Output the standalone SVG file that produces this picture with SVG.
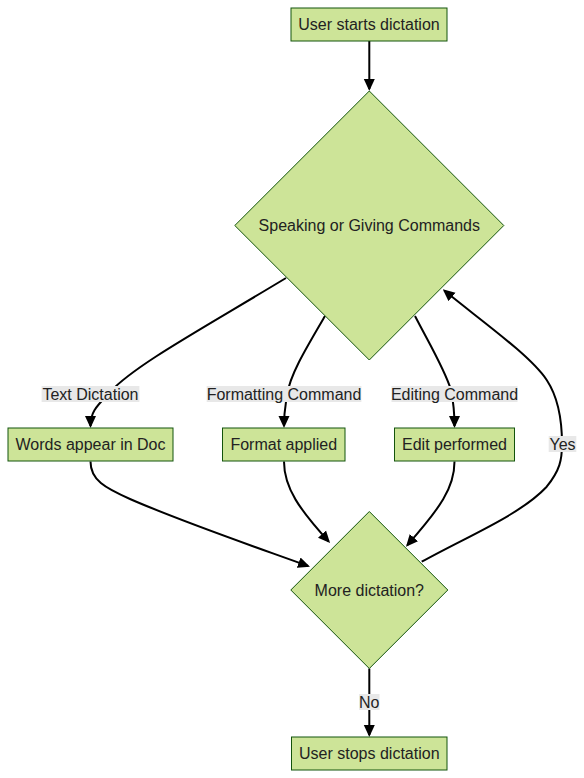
<svg xmlns="http://www.w3.org/2000/svg" width="584" height="778" viewBox="0 0 584 778">
<style>
.node rect, .node polygon { fill: #cde498; stroke: #13540c; stroke-width: 1; }
.node text { font-family: "Liberation Sans", Arial, sans-serif; font-size: 16px; fill: #222; text-anchor: middle; }
.edge { fill: none; stroke: #000; stroke-width: 2; marker-end: url(#arrow); }
.elabel rect { fill: #e8e8e8; }
.elabel text { font-family: "Liberation Sans", Arial, sans-serif; font-size: 16px; fill: #222; text-anchor: middle; }
</style>
<defs>
<marker id="arrow" viewBox="0 0 12 12" refX="10" refY="6" markerWidth="12" markerHeight="12" markerUnits="userSpaceOnUse" orient="auto">
<path d="M0,0.5 L12,6 L0,11.5 z" fill="#000"/>
</marker>
</defs>
<g id="connectors">
<path class="edge" d="M369.3,41 L369.3,89"/>
<path class="edge" d="M286,278 C200,330 135,365 110,392 C96,407 90.5,412 90.5,426"/>
<path class="edge" d="M325,316 C305,350 290,375 287,395 C285,408 284,412 284,426"/>
<path class="edge" d="M415,316 C430,345 445,370 451,390 C454,405 454.5,412 454.5,426"/>
<path class="edge" d="M421.7,561.7 C470,535 520,515 546.7,486.7 C560,470 562,460 562,444 C562,428 560,400 546.7,380 C530,355 480,320 444.3,290.6"/>
<path class="edge" d="M90.5,461.5 C90.5,480 105,488 130,499 C180,521 250,545 308.1,566"/>
<path class="edge" d="M284,461.5 C284,488 300,510 328.7,541.5"/>
<path class="edge" d="M454.5,461.5 C454.5,488 440,508 407.3,545.2"/>
<path class="edge" d="M369.3,668.5 L369.3,735"/>
</g>
<g id="edge-labels">
<g class="elabel" id="label-text-dictation"><rect x="41.6" y="386" width="97.8" height="16"/><text x="90.5" y="399.5">Text Dictation</text></g>
<g class="elabel" id="label-formatting-command"><rect x="206.7" y="386" width="154.7" height="16"/><text x="284" y="399.5">Formatting Command</text></g>
<g class="elabel" id="label-editing-command"><rect x="391.5" y="386" width="126" height="16"/><text x="454.5" y="399.5">Editing Command</text></g>
<g class="elabel" id="label-yes"><rect x="548.7" y="436" width="27.6" height="16"/><text x="562.5" y="449.5">Yes</text></g>
<g class="elabel" id="label-no"><rect x="359.1" y="694" width="20.4" height="16"/><text x="369.3" y="707.5">No</text></g>
</g>
<g class="node" id="start"><rect x="291" y="8" width="156" height="33"/><text x="369" y="30">User starts dictation</text></g>
<g class="node" id="decision1"><polygon points="369.3,91 503.8,225.5 369.3,360 234.8,225.5"/><text x="369.3" y="231">Speaking or Giving Commands</text></g>
<g class="node" id="words"><rect x="8" y="428" width="165" height="33"/><text x="90.5" y="450">Words appear in Doc</text></g>
<g class="node" id="format"><rect x="222.5" y="428" width="122.5" height="33"/><text x="283.8" y="450">Format applied</text></g>
<g class="node" id="edit"><rect x="394.5" y="428" width="120" height="33"/><text x="454.5" y="450">Edit performed</text></g>
<g class="node" id="decision2"><polygon points="369.3,511.5 447.8,590 369.3,668.5 290.8,590"/><text x="369.3" y="595.5">More dictation?</text></g>
<g class="node" id="stop"><rect x="291.5" y="737" width="155.5" height="33"/><text x="369.3" y="759">User stops dictation</text></g>
</svg>
